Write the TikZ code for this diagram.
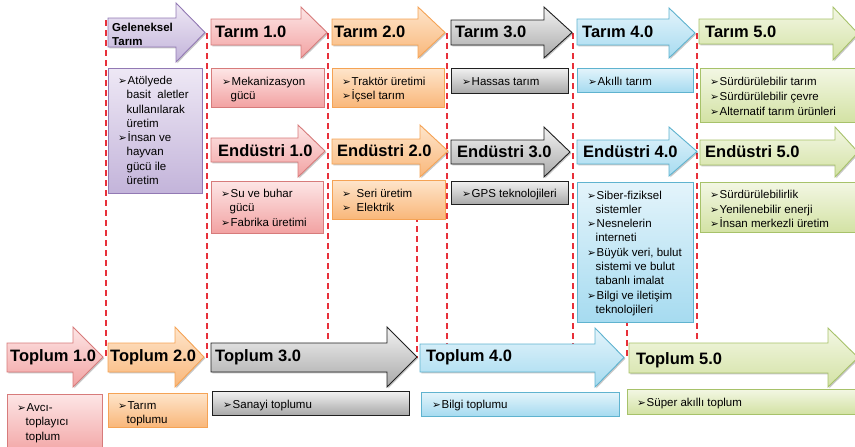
\documentclass[tikz,border=0pt]{standalone}
\usepackage{fontspec}
\setmainfont{Liberation Sans}
\newfontfamily\dingfont{DejaVu Sans}
\usetikzlibrary{shadows,fit}

% colour sets: T = top of gradient, B = bottom, D = outline
\definecolor{sepred}{HTML}{E8303A}
\definecolor{redT}{HTML}{FDE6E6}\definecolor{redB}{HTML}{F2A2A2}\definecolor{redD}{HTML}{D77B7B}
\definecolor{orgT}{HTML}{FEE5CB}\definecolor{orgB}{HTML}{F9B77A}\definecolor{orgD}{HTML}{F5A355}
\definecolor{gryT}{HTML}{F2F2F2}\definecolor{gryB}{HTML}{A9A9A9}\definecolor{gryD}{HTML}{202020}
\definecolor{bluT}{HTML}{E4F4FB}\definecolor{bluB}{HTML}{A6DBF0}\definecolor{bluD}{HTML}{5FB3CF}
\definecolor{grnT}{HTML}{F3F7E4}\definecolor{grnB}{HTML}{D3E2A4}\definecolor{grnD}{HTML}{A7C26A}
\definecolor{purT}{HTML}{EEE8F5}\definecolor{purB}{HTML}{C3B4DA}\definecolor{purD}{HTML}{9279B4}

\newcommand\bul{\makebox[9.5pt][l]{\dingfont\fontsize{10.5}{10.5}\selectfont ➢}}
\newcommand\ind{\hspace*{8.5pt}}

% block arrow: #1 style, #2 left x, #3 head base x, #4 tip x,
% #5 shaft top, #6 shaft bottom, #7 head top, #8 head bottom
\newcommand\blockarrow[8]{%
  \path[#1] (#2,#5) -- (#3,#5) -- (#3,#7) -- (#4,{(#7+#8)/2}) -- (#3,#8)
    -- (#3,#6) -- (#2,#6) -- cycle;}

\tikzset{
  sep/.style={draw=sepred, line width=1.3pt, dash pattern=on 6pt off 4pt},
  softshadow/.style={drop shadow={shadow xshift=1.3pt, shadow yshift=-1.3pt,
      opacity=0.22, fill=black}},
  redfill/.style={top color=redT, bottom color=redB, draw=redD},
  orgfill/.style={top color=orgT, bottom color=orgB, draw=orgD},
  gryfill/.style={top color=gryT, bottom color=gryB, draw=gryD},
  blufill/.style={top color=bluT, bottom color=bluB, draw=bluD},
  grnfill/.style={top color=grnT, bottom color=grnB, draw=grnD},
  purfill/.style={top color=purT, bottom color=purB, draw=purD},
  arr/.style={line width=0.9pt, softshadow},
  panel/.style={rectangle, inner sep=0pt, line width=0.9pt, softshadow},
  title/.style={anchor=west, inner sep=0pt, font=\bfseries\fontsize{16.5}{18}\selectfont},
  note/.style={anchor=north west, inner sep=0pt, align=left,
      font=\fontsize{11.5}{14.3}\selectfont},
}

\begin{document}
\begin{tikzpicture}[x=1pt, y=-1pt]
\useasboundingbox (0,0) rectangle (855,447);

% era separators
\foreach \xx/\ya in {106/20, 207/33, 328/33, 447/33, 573/33, 697/33, 417/216, 627/200}
  \draw[sep] (\xx,\ya) coordinate (s\xx) -- (\xx,358) coordinate (e\xx);

% ---------- agriculture row ----------
\blockarrow{arr, purfill}{108}{176}{205}{18}{47}{3}{62}
\node[anchor=west, inner sep=0pt, align=left, font=\bfseries\fontsize{11.5}{14}\selectfont]
  (gt) at (112,34) {Geleneksel\\Tarım};
\blockarrow{arr, redfill}{211}{301}{327}{19}{45}{7}{58}
\node[title] (t1) at (215,32) {Tarım 1.0};
\blockarrow{arr, orgfill}{332}{418}{445}{19}{45}{7}{58}
\node[title] (t2) at (334,32) {Tarım 2.0};
\blockarrow{arr, gryfill}{451}{544}{572}{20}{45}{7}{58}
\node[title] (t3) at (455,32) {Tarım 3.0};
\blockarrow{arr, blufill}{577}{669}{695}{19}{45}{8}{58}
\node[title] (t4) at (582,32) {Tarım 4.0};
\blockarrow{arr, grnfill}{699}{833}{858}{19}{44}{7}{60}
\node[title] (t5) at (705,32) {Tarım 5.0};

\node[panel, purfill, fit={(108,68) (202,193)}] (bg) {};
\node[note] (ng) at (118,74.2) {\strut\bul Atölyede\\ \ind basit\ \ aletler\\ \ind kullanılarak\\ \ind üretim\\
  \bul İnsan ve\\ \ind hayvan\\ \ind gücü ile\\ \ind üretim};
\node[panel, redfill, fit={(211,68) (324,107)}] (bt1) {};
\node[note] (nt1) at (222,75.2) {\strut\bul Mekanizasyon\\ \ind gücü};
\node[panel, orgfill, fit={(332,68) (444,107)}] (bt2) {};
\node[note] (nt2) at (342,75.2) {\strut\bul Traktör üretimi\\ \bul İçsel tarım};
\node[panel, gryfill, fit={(451,68) (568,93)}] (bt3) {};
\node[note] (nt3) at (462,75.2) {\strut\bul Hassas tarım};
\node[panel, blufill, fit={(577,68) (693,92)}] (bt4) {};
\node[note] (nt4) at (588,75.2) {\strut\bul Akıllı tarım};
\node[panel, grnfill, fit={(700,68) (870,122)}] (bt5) {};
\node[note, font=\fontsize{11.5}{15}\selectfont] (nt5) at (710,74.8)
  {\strut\bul Sürdürülebilir tarım\\ \bul Sürdürülebilir çevre\\ \bul Alternatif tarım ürünleri};

% ---------- industry row ----------
\blockarrow{arr, redfill}{211}{298}{325}{138}{162}{125}{177}
\node[title] (i1) at (218,151) {Endüstri 1.0};
\blockarrow{arr, orgfill}{332}{420}{448}{139}{164}{125}{177}
\node[title] (i2) at (337,151) {Endüstri 2.0};
\blockarrow{arr, gryfill}{451}{544}{570}{140}{164}{127}{177}
\node[title] (i3) at (457,152) {Endüstri 3.0};
\blockarrow{arr, blufill}{577}{669}{697}{140}{164}{127}{176}
\node[title] (i4) at (583,152) {Endüstri 4.0};
\blockarrow{arr, grnfill}{700}{835}{858}{140}{165}{127}{177}
\node[title] (i5) at (705,152) {Endüstri 5.0};

\node[panel, redfill, fit={(211,181) (323,233)}] (bi1) {};
\node[note] (ni1) at (221,187.2) {\strut\bul Su ve buhar\\ \ind gücü\\ \bul Fabrika üretimi};
\node[panel, orgfill, fit={(332,180) (445,219)}] (bi2) {};
\node[note] (ni2) at (342,187.2) {\strut\bul\hspace{5pt}Seri üretim\\ \bul\hspace{5pt}Elektrik};
\node[panel, gryfill, fit={(451,181) (568,204)}] (bi3) {};
\node[note] (ni3) at (462,187.2) {\strut\bul GPS teknolojileri};
\node[panel, blufill, fit={(577,182) (693,322)}] (bi4) {};
\node[note] (ni4) at (587,188.8) {\strut\bul Siber-fiziksel\\ \ind sistemler\\ \bul Nesnelerin\\ \ind interneti\\
  \bul Büyük veri, bulut\\ \ind sistemi ve bulut\\ \ind tabanlı\ imalat\\ \bul Bilgi ve iletişim\\ \ind teknolojileri};
\node[panel, grnfill, fit={(700,182) (870,232)}] (bi5) {};
\node[note, font=\fontsize{11.5}{14.5}\selectfont] (ni5) at (710,188.2)
  {\strut\bul Sürdürülebilirlik\\ \bul Yenilenebilir enerji\\ \bul İnsan merkezli üretim};

% ---------- society row ----------
\blockarrow{arr, redfill}{7}{73}{103}{343}{372}{327}{387}
\node[title] (s1) at (10,357) {Toplum 1.0};
\blockarrow{arr, orgfill}{108}{175}{204}{343}{372}{327}{387}
\node[title] (s2) at (110,357) {Toplum 2.0};
\blockarrow{arr, gryfill}{211}{387}{417}{343}{372}{327}{387}
\node[title] (s3) at (215,357) {Toplum 3.0};
\blockarrow{arr, blufill}{420}{595}{624}{344}{372}{328}{387}
\node[title] (s4) at (426,357) {Toplum 4.0};
\blockarrow{arr, grnfill}{629}{828}{858}{343}{373}{328}{387}
\node[title] (s5) at (636,360) {Toplum 5.0};

\node[panel, redfill, fit={(7,394) (102,456)}] (bs1) {};
\node[note] (ns1) at (17,401.2) {\strut\bul Avcı-\\ \ind toplayıcı\\ \ind toplum};
\node[panel, orgfill, fit={(108,393) (207,427)}] (bs2) {};
\node[note] (ns2) at (118,399.2) {\strut\bul Tarım\\ \ind toplumu};
\node[panel, gryfill, fit={(212,391) (409,415)}] (bs3) {};
\node[note] (ns3) at (223,398.2) {\strut\bul Sanayi toplumu};
\node[panel, blufill, fit={(421,392) (619,416)}] (bs4) {};
\node[note] (ns4) at (432,398.2) {\strut\bul Bilgi toplumu};
\node[panel, grnfill, fit={(627,389) (870,414)}] (bs5) {};
\node[note] (ns5) at (637,396.2) {\strut\bul Süper akıllı toplum};
\end{tikzpicture}
\end{document}
